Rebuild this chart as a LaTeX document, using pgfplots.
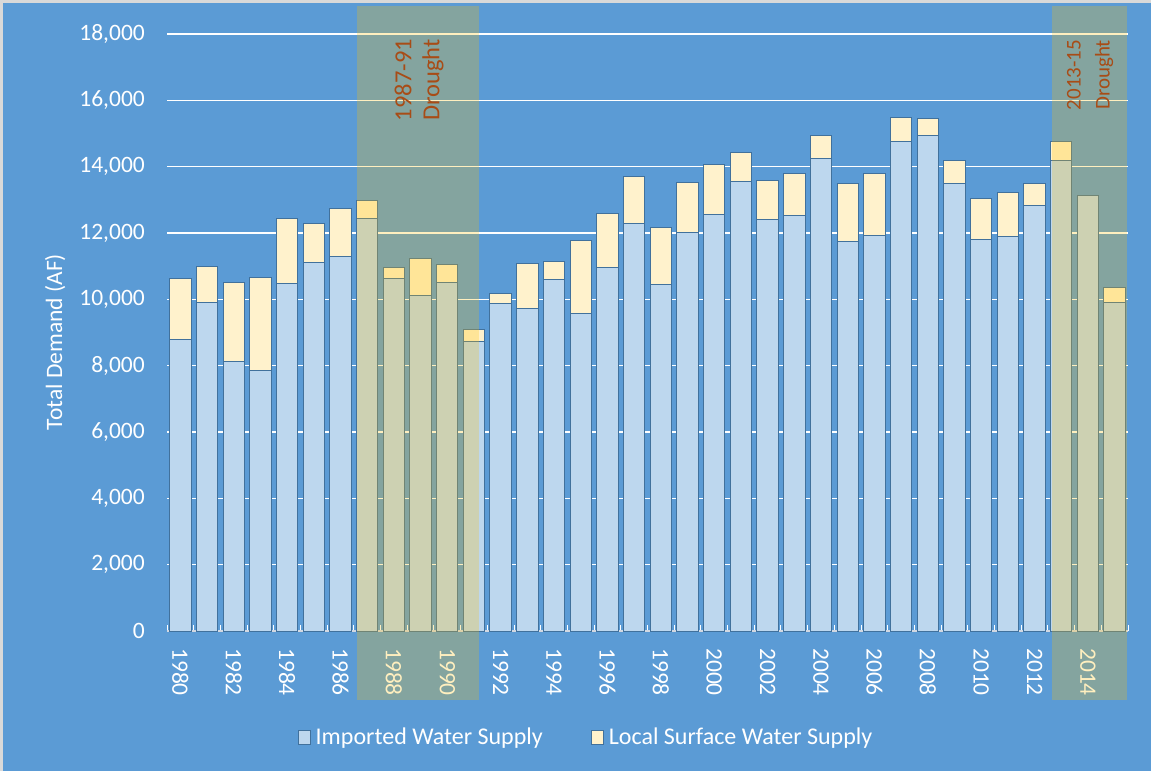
\documentclass[border=0pt]{standalone}
\usepackage{pgfplots}
\pgfplotsset{compat=1.18}
\usepackage{pgfplotstable}
\usepackage{fontspec}
\setmainfont{Carlito}
\definecolor{bg}{RGB}{91,155,213}
\definecolor{imp}{RGB}{189,215,238}
\definecolor{loc}{RGB}{255,242,204}
\definecolor{edge}{RGB}{65,113,156}
\definecolor{goldshade}{RGB}{255,192,0}
\definecolor{drought}{RGB}{168,76,22}
\definecolor{framegray}{RGB}{217,217,217}
\definecolor{axisline}{RGB}{210,216,226}

\pgfplotstableread{
x year imp loc
0 1980 8780 1840
1 1981 9900 1100
2 1982 8120 2380
3 1983 7840 2810
4 1984 10480 1950
5 1985 11100 1180
6 1986 11280 1450
7 1987 12440 530
8 1988 10630 330
9 1989 10130 1090
10 1990 10520 520
11 1991 8740 360
12 1992 9860 310
13 1993 9720 1360
14 1994 10600 530
15 1995 9570 2210
16 1996 10960 1620
17 1997 12280 1410
18 1998 10450 1710
19 1999 12020 1490
20 2000 12570 1500
21 2001 13560 870
22 2002 12410 1170
23 2003 12530 1250
24 2004 14260 680
25 2005 11730 1760
26 2006 11920 1880
27 2007 14770 720
28 2008 14930 520
29 2009 13500 680
30 2010 11790 1260
31 2011 11880 1340
32 2012 12820 670
33 2013 14200 550
34 2014 13140 0
35 2015 9910 460
}\datatable

\begin{document}
\begin{tikzpicture}
\fill[framegray] (0pt,0pt) rectangle (1151pt,-771pt);
\fill[bg] (3pt,-3pt) rectangle (1151pt,-771pt);
\path[use as bounding box] (0pt,0pt) rectangle (1151pt,-771pt);
\begin{axis}[
  at={(167pt,-631pt)}, anchor=south west,
  scale only axis, width=961pt, height=597pt,
  ybar stacked, bar width=21.4pt,
  xmin=-0.5, xmax=35.5, ymin=0, ymax=18000,
  enlarge x limits=false,
  axis x line*=bottom, axis y line*=left,
  y axis line style={draw=none},
  x axis line style={draw=axisline, line width=1.5pt},
  xtick={0,2,...,34},
  xticklabels={1980,1982,1984,1986,1988,1990,1992,1994,1996,1998,2000,2002,2004,2006,2008,2010,2012,2014},
  minor xtick={-0.5,0.5,...,35.5},
  major tick length=0pt,
  minor tick length=6pt,
  tick align=inside,
  minor tick style={draw=white, line width=1pt},
  ytick={0,2000,...,18000},
  ymajorgrids,
  grid style={draw=white, line width=1.5pt},
  /pgf/number format/assume math mode=true,
  /pgf/number format/1000 sep={,},
  scaled y ticks=false,
  ticklabel style={font=\fontsize{23.5}{28}\selectfont, text=white},
  yticklabel style={anchor=east, inner sep=0pt, xshift=-22pt},
  xticklabel style={rotate=-90, anchor=west, inner sep=0pt},
  xticklabel shift=17pt,
  ylabel={Total Demand (AF)},
  ylabel style={font=\fontsize{23.5}{28}\selectfont, text=white, at={(axis description cs:-0.1165,0.484)}, anchor=center},
  legend columns=2,
  legend style={draw=none, fill=none, text=white, font=\fontsize{24}{28}\selectfont,
    at={(axis description cs:0.1363,-0.1776)}, anchor=west, inner sep=0pt,
    nodes={inner sep=4.5pt},
    /tikz/every even column/.append style={column sep=44pt}},
]
\addplot[fill=imp, draw=edge, line width=1pt,
  legend image code/.code={\draw[fill=imp, draw=edge, line width=1pt] (0pt,-7pt) rectangle (12pt,7pt);}]
  table[x=x, y=imp] {\datatable};
\addlegendentry{Imported Water Supply}
\addplot[fill=loc, draw=edge, line width=1pt,
  legend image code/.code={\draw[fill=loc, draw=edge, line width=1pt] (0pt,-7pt) rectangle (12pt,7pt);}]
  table[x=x, y=loc] {\datatable};
\addlegendentry{Local Surface Water Supply}
\coordinate (s1a) at (axis cs:6.62,18840);
\coordinate (s1b) at (axis cs:11.19,-2080);
\coordinate (s2a) at (axis cs:32.66,18840);
\coordinate (s2b) at (axis cs:35.45,-2080);
\coordinate (t1) at (axis cs:8.94,16610);
\coordinate (t2) at (axis cs:34.08,16764);
\end{axis}
\fill[goldshade, fill opacity=0.25] (s1a) rectangle (s1b);
\fill[goldshade, fill opacity=0.25] (s2a) rectangle (s2b);
\node[rotate=90, text=drought, align=center, inner sep=0pt, font=\fontsize{24.5}{28}\selectfont] at (t1) {1987-91\\Drought};
\node[rotate=90, text=drought, align=center, inner sep=0pt, font=\fontsize{21}{29}\selectfont] at (t2) {2013-15\\Drought};
\end{tikzpicture}
\end{document}
